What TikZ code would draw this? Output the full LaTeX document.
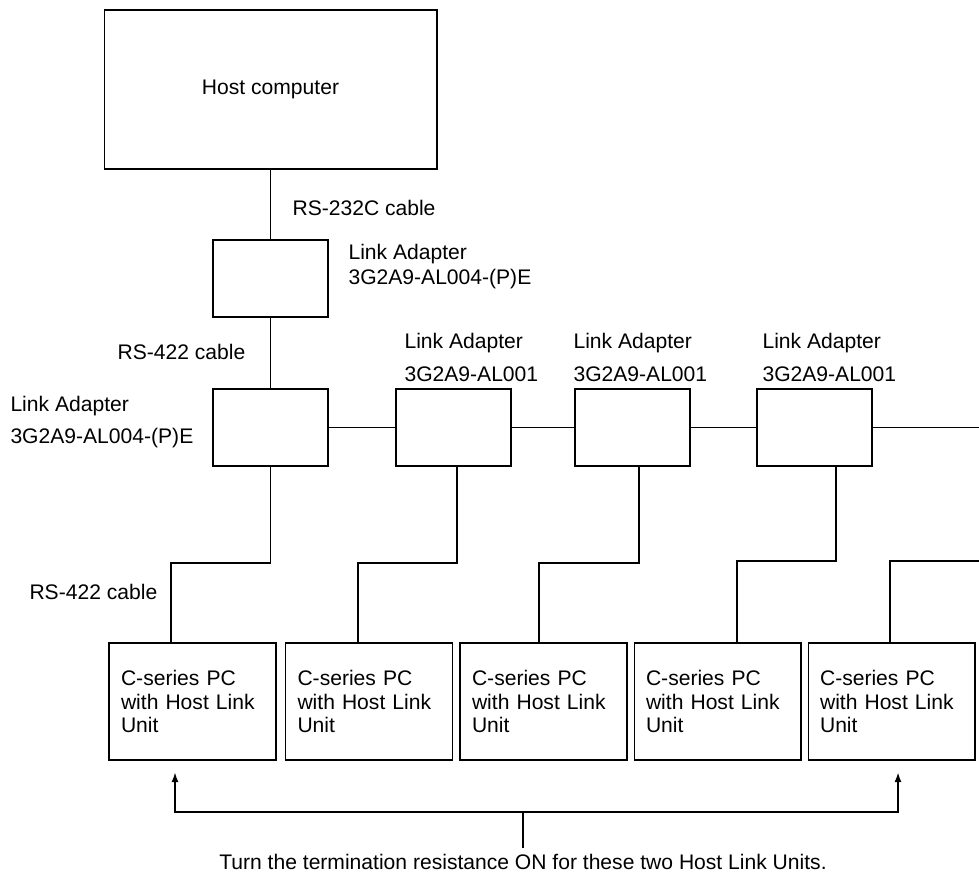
\documentclass[tikz,border=0pt]{standalone}
\usepackage{fontspec}
\setmainfont{Liberation Sans}
\usetikzlibrary{arrows.meta,positioning,calc}

\begin{document}
\begin{tikzpicture}[x=0.02cm, y=-0.02cm, line width=0.6pt,
  font=\fontsize{12}{14.4}\selectfont,
  box/.style={draw, inner sep=0pt, minimum width=2.3cm, minimum height=1.54cm},
  pcbox/.style={draw, inner xsep=0.24cm, inner ysep=0pt, text width=2.86cm, minimum height=2.34cm, align=left, font=\fontsize{12}{13.3}\selectfont},
  lbl/.style={inner sep=0pt, anchor=west, align=left},
  termline/.style={line width=1.2pt}]
  \useasboundingbox (0,0) rectangle (979,871);

  \node[draw, minimum width=6.66cm, minimum height=3.18cm] (host) at (270.5,89.5) {Host computer};
  \node[box] (la0) at (270.5,278.5) {};
  \foreach \i/\x in {1/270.5,2/453.5,3/632.5,4/814.5}{\node[box] (la\i) at (\x,427.5) {};}
  \foreach \i/\x in {1/192.5,2/369,3/543.5,4/717.5,5/891.5}{\node[pcbox] (pc\i) at (\x,701.5) {C-series PC\\with Host Link\\Unit};}

  \node[lbl] (rs232) at (292,208) {RS-232C cable};
  \node[lbl] (lbl0) at (348,266.5) {Link Adapter\\3G2A9-AL004-(P)E};
  \node[lbl] (rs422a) at (117,352) {RS-422 cable};
  \node[lbl] (lbl1) at (10,422) {Link Adapter\\[4pt]3G2A9-AL004-(P)E};
  \foreach \i/\x in {2/404,3/573,4/762}{\node[lbl] (lbl\i) at (\x,357.5) {Link Adapter\\[4pt]3G2A9-AL001};}
  \node[lbl] (rs422b) at (29,592) {RS-422 cable};

  \draw (host.south) -- (la0.north);
  \draw (la0.south) -- (la1.north);
  \coordinate (e4) at (979,427.5);
  \draw (la1) -- (la2) -- (la3) -- (la4) -- (e4);
  \foreach \i/\a/\b/\y in {1/270.5/171/563,2/457/358/563,3/639/539/563,4/836/737/561}{\draw (\a,0 |- la\i.south) |- (\b,\y) -- (\b,0 |- pc\i.north);}
  \coordinate (e5) at (979,561);
  \draw (e5) -| (890,0 |- pc5.north);

  \node[anchor=base, inner sep=3pt] (note) at (523,869) {Turn the termination resistance ON for these two Host Link Units.};
  \coordinate (mid) at (note.north |- 0,812);
  \coordinate (t1) at (175,772);
  \coordinate (t5) at (898,772);
  \draw[termline] (note.north) -- (mid);
  \draw[termline, -{Latex[length=2mm,width=1.4mm]}] (mid) -| (t1);
  \draw[termline, -{Latex[length=2mm,width=1.4mm]}] (mid) -| (t5);
\end{tikzpicture}
\end{document}
